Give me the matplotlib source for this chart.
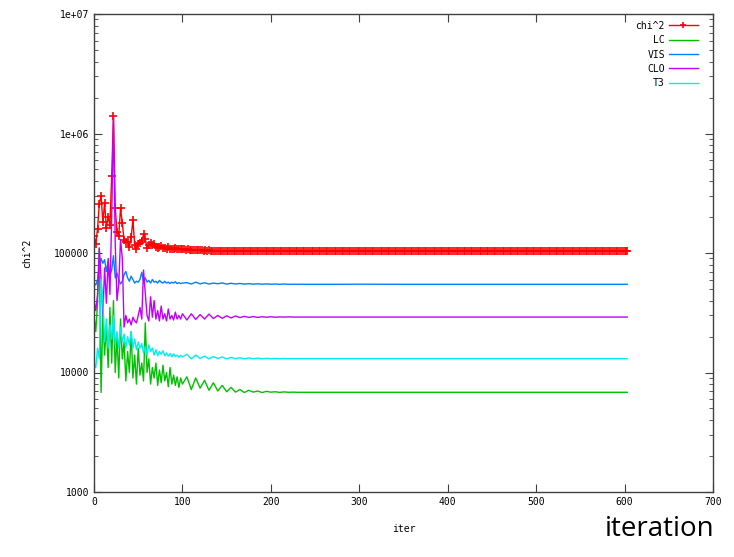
import numpy as np
import matplotlib.pyplot as plt
from matplotlib.ticker import LogLocator, FixedLocator, NullFormatter

# iterations for the component curves
iters = list(range(0, 101, 2)) + list(range(105, 251, 5)) + [275, 300, 350, 400, 450, 500, 550, 603]

# values in thousands
vis = [56, 54, 60, 75, 90, 82, 88, 70, 85, 65,
       72, 95, 62, 68, 60, 55, 58, 66, 70, 62,
       58, 64, 60, 56, 58, 57, 60, 69, 58, 62,
       57, 59, 56, 60, 57, 58, 56, 59, 57, 56,
       58, 56, 57, 55.5, 57, 56, 57.5, 55.5, 56.5, 55.5,
       56,
       56.5, 55, 57, 55.2, 56.4, 55, 56, 55.3, 56.2, 54.9,
       55.8, 55, 55.6, 54.9, 55.4, 54.8, 55.3, 54.8, 55.1, 54.8,
       55.0, 54.7, 55.0, 54.7, 54.8, 54.7, 54.8, 54.7, 54.7, 54.7,
       54.7, 54.8, 54.7, 54.7, 54.7, 54.7, 54.7, 54.7]

clo = [40, 33, 45, 110, 60, 30, 75, 38, 90, 45,
       200, 1400, 120, 40, 55, 130, 90, 24, 30, 26,
       28, 25, 29, 27, 26, 30, 35, 28, 72, 46,
       30, 27, 43, 29, 40, 28, 33, 27, 36, 28,
       31, 27, 34, 28, 30, 27.5, 32, 28, 30, 28,
       31,
       27.5, 31, 27.8, 30.5, 28, 30.8, 28.3, 30, 28.4, 29.8,
       28.6, 29.7, 28.8, 29.5, 28.9, 29.4, 28.9, 29.3, 29.0, 29.3,
       29.0, 29.2, 29.1, 29.2, 29.1, 29.1, 29.1, 29.1, 29.1, 29.1,
       29.1, 29.1, 29.1, 29.1, 29.1, 29.1, 29.1, 29.1]

t3 = [12, 11, 16, 13, 60, 40, 18, 28, 16, 25,
      19, 30, 17, 22, 16, 24, 18, 21, 16, 20,
      17, 22, 16, 19, 15.5, 18, 16, 17.5, 14.5, 16.5,
      14, 17, 15, 16, 14, 15.5, 13.8, 15, 14.2, 15.2,
      13.8, 14.6, 13.7, 14.4, 13.5, 14.3, 13.6, 14, 13.4, 13.9,
      13.5,
      14.2, 13.0, 14.0, 13.1, 13.7, 13.0, 13.6, 13.1, 13.5, 13.0,
      13.4, 13.05, 13.3, 13.0, 13.25, 13.03, 13.2, 13.03, 13.15, 13.04,
      13.1, 13.05, 13.08, 13.05, 13.06, 13.06, 13.06, 13.06, 13.06, 13.06,
      13.06, 13.06, 13.06, 13.06, 13.06, 13.06, 13.06, 13.06]

lc = [30, 22, 38, 110, 6.8, 30, 14, 25, 11, 35,
      12, 40, 10, 20, 9, 28, 13, 18, 8.5, 15,
      10, 22, 9, 14, 8, 16, 9.5, 12, 8.5, 26,
      10, 13, 8, 11, 9, 12, 7.8, 10.5, 8.2, 11.5,
      8.5, 10, 7.6, 11, 8, 9.5, 7.8, 9.2, 7.5, 9,
      8,
      9.2, 7.2, 9.0, 7.4, 8.6, 7.1, 8.2, 7.0, 7.8, 6.9,
      7.5, 6.85, 7.2, 6.8, 7.1, 6.85, 7.0, 6.8, 6.95, 6.85,
      6.9, 6.82, 6.88, 6.83, 6.85, 6.83, 6.83, 6.83, 6.83, 6.83,
      6.83, 6.83, 6.83, 6.83, 6.83, 6.83, 6.83, 6.83]

# chi^2 has a point every 2 iterations, so its markers merge into a band
chi_iters = list(range(0, 603, 2)) + [603]
chi2 = [138, 120, 159, 258, 300, 182, 260, 161, 202, 170,
        440, 1400, 240, 150, 140, 237, 179, 129, 124, 123,
        113, 135, 190, 116, 108, 120, 121, 126, 143, 130,
        111, 116, 122, 116, 120, 112, 111, 112, 115, 111,
        110, 108, 112, 109, 108, 107, 110, 107, 107, 107,
        # 100 .. 150
        108, 107, 106.5, 107.5, 106, 106.8, 105.5, 106.5, 105.2, 106,
        105, 105.6, 104.8, 105.4, 104.6, 105, 104.4, 104.9, 104.2, 104.6,
        104.1, 104.5, 104, 104.3, 103.9, 104.2,
        # 152 .. 200
        103.8, 104.2, 103.8, 104.1, 103.7, 104, 103.8, 104, 103.7, 103.9,
        103.6, 103.9, 103.7, 103.9, 103.7, 103.8, 103.6, 103.9, 103.7, 103.8,
        103.7, 103.8, 103.6, 103.8, 103.7,
        # 202 .. 602
        103.7, 103.8, 103.6, 103.8, 103.7, 103.7, 103.6, 103.8, 103.7, 103.7,
        103.8, 103.7, 103.6, 103.7, 103.8, 103.7, 103.7, 103.6, 103.7, 103.8,
        103.7, 103.6, 103.7, 103.7, 103.8, 103.7, 103.6, 103.7, 103.7, 103.7,
        103.8, 103.7, 103.7, 103.6, 103.7, 103.7, 103.8, 103.7, 103.7, 103.6,
        103.7, 103.7, 103.8, 103.7, 103.6, 103.7, 103.7, 103.7, 103.8, 103.7,
        103.6, 103.7, 103.7, 103.8, 103.7, 103.7, 103.6, 103.7, 103.7, 103.8,
        103.7, 103.7, 103.6, 103.7, 103.8, 103.7, 103.7, 103.7, 103.6, 103.7,
        103.8, 103.7, 103.7, 103.7, 103.6, 103.7, 103.7, 103.8, 103.7, 103.7,
        103.7, 103.6, 103.7, 103.7, 103.8, 103.7, 103.7, 103.7, 103.6, 103.7,
        103.7, 103.8, 103.7, 103.7, 103.6, 103.7, 103.7, 103.7, 103.8, 103.7,
        103.7, 103.6, 103.7, 103.7, 103.7, 103.8, 103.7, 103.7, 103.6, 103.7,
        103.7, 103.7, 103.8, 103.7, 103.7, 103.6, 103.7, 103.7, 103.7, 103.8,
        103.7, 103.7, 103.6, 103.7, 103.7, 103.7, 103.8, 103.7, 103.7, 103.6,
        103.7, 103.7, 103.7, 103.8, 103.7, 103.7, 103.6, 103.7, 103.7, 103.7,
        103.8, 103.7, 103.7, 103.6, 103.7, 103.7, 103.7, 103.8, 103.7, 103.7,
        103.6, 103.7, 103.7, 103.7, 103.8, 103.7, 103.7, 103.6, 103.7, 103.7,
        103.7, 103.8, 103.7, 103.7, 103.6, 103.7, 103.7, 103.7, 103.8, 103.7,
        103.7, 103.6, 103.7, 103.7, 103.7, 103.8, 103.7, 103.7, 103.6, 103.7,
        103.7, 103.7, 103.8, 103.7, 103.7, 103.6, 103.7, 103.7, 103.7, 103.8,
        103.7, 103.7, 103.6, 103.7, 103.7, 103.7, 103.8, 103.7, 103.7, 103.7,
        103.7,
        # 603
        103.7]

series = [("chi^2", chi_iters, chi2, "#ff0000"),
          ("LC", iters, lc, "#00c000"),
          ("VIS", iters, vis, "#0080ff"),
          ("CLO", iters, clo, "#c000ff"),
          ("T3", iters, t3, "#00eeee")]

font = "DejaVu Sans Mono"

fig = plt.figure(figsize=(7.34, 5.57), dpi=100)
ax = fig.add_axes([94 / 734, 65 / 557, 619 / 734, 478 / 557])

for name, x, y, col in series:
    y = np.array(y) * 1000
    if name == "chi^2":
        ax.plot(x, y, color=col, lw=1, marker="+", ms=5.5, mew=1.2, label=name)
    else:
        ax.plot(x, y, color=col, lw=1, label=name)

ax.set_yscale("log")
ax.set_xlim(0, 700)
ax.set_ylim(1000, 1e7)

ax.xaxis.set_major_locator(FixedLocator(range(0, 701, 100)))
ax.yaxis.set_major_locator(LogLocator(base=10))
ax.yaxis.set_minor_locator(LogLocator(base=10, subs=range(2, 10)))
ax.yaxis.set_minor_formatter(NullFormatter())
ax.set_yticks([1e3, 1e4, 1e5, 1e6, 1e7])
ax.set_yticklabels(["1000", "10000", "100000", "1e+06", "1e+07"])
ax.tick_params(which="both", direction="in", top=True, right=True,
               colors="#404040", labelcolor="black", labelsize=7)
ax.tick_params(which="major", length=6)
ax.tick_params(which="minor", length=3)
for lab in ax.get_xticklabels() + ax.get_yticklabels():
    lab.set_family(font)
for s in ax.spines.values():
    s.set_color("#404040")
    s.set_linewidth(1)

ax.set_xlabel("iter", family=font, fontsize=7, labelpad=12)
ax.set_ylabel("chi^2", family=font, fontsize=7, labelpad=16)

leg = ax.legend(loc="upper right", bbox_to_anchor=(0.982, 0.994), borderaxespad=0,
                frameon=False, markerfirst=False,
                prop={"family": font, "size": 7}, handlelength=3.0,
                labelspacing=0.45, handletextpad=0.4, numpoints=1)
for h in leg.legend_handles:
    h.set_markersize(5)

fig.text(0.973, 0.025, "iteration", fontsize=20, family="Open Sans",
         ha="right", va="bottom")

fig.savefig("out.png", dpi=100)
